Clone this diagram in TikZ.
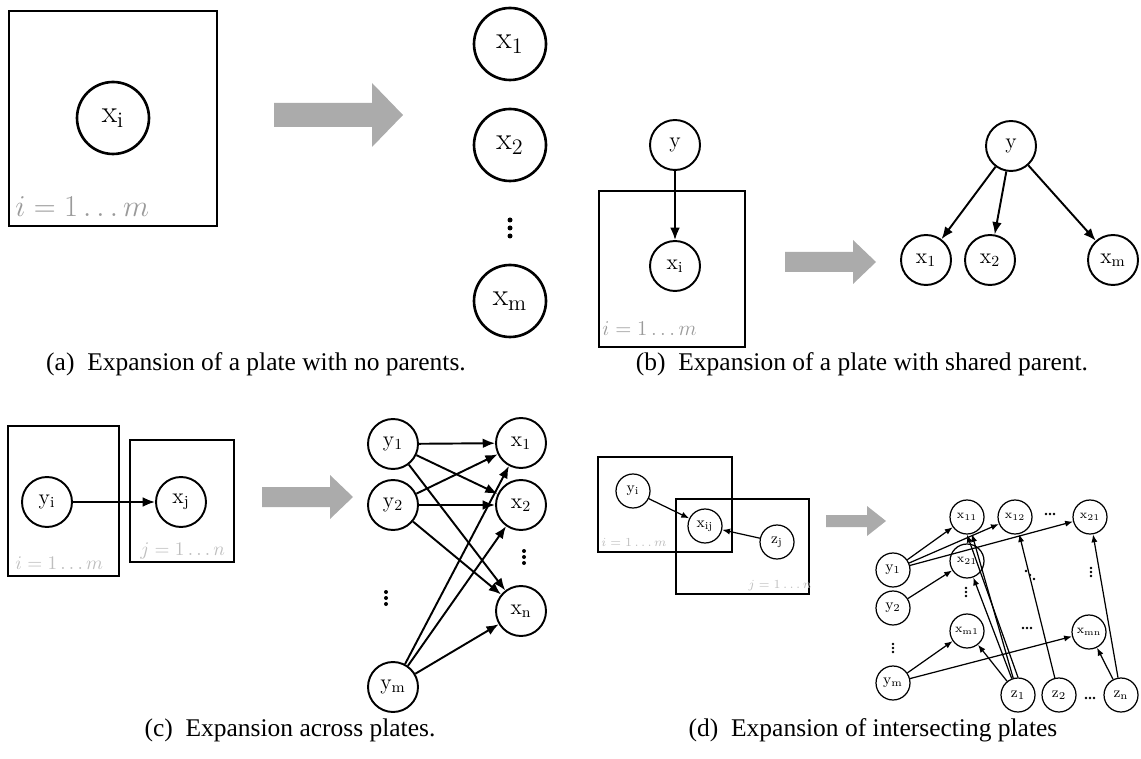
\documentclass[tikz,border=0pt]{standalone}
\usepackage{fontspec}
\newfontfamily\capfont{Liberation Serif}
\usetikzlibrary{arrows.meta,positioning}
\definecolor{FatGray}{HTML}{ABABAB}
\definecolor{LabelGray}{HTML}{9A9A9A}
\definecolor{LabelLight}{HTML}{BEBEBE}

\begin{document}
\begin{tikzpicture}[
  x=0.02cm, y=-0.02cm,
  var/.style={draw,circle,inner sep=0pt},
  varA/.style={var,minimum size=1.44cm,line width=1.5pt,font=\fontsize{18}{21}\selectfont},
  varB/.style={var,minimum size=1cm,line width=1.1pt,font=\fontsize{12.5}{15}\selectfont},
  varD/.style={var,minimum size=0.68cm,line width=0.7pt,font=\fontsize{8.6}{10}\selectfont},
  smallx/.style={font=\fontsize{7}{8}\selectfont},
  plateA/.style={draw,line width=1.5pt},
  plateB/.style={draw,line width=1.1pt},
  plateD/.style={draw,line width=0.7pt},
  rangelbl/.style={anchor=base west,inner sep=0pt},
  edgeB/.style={-{Latex[length=7pt,width=5.5pt]},line width=1.1pt},
  edgeD/.style={-{Latex[length=4.5pt,width=3.5pt]},line width=0.7pt},
  fatarrow/.style={fill=FatGray},
  dot/.style={fill=black},
  caption/.style={font=\capfont\fontsize{14.5}{17}\selectfont}
]
\useasboundingbox (0,0) rectangle (1141,759);

% (a) plate with no parents
\draw[plateA] (9,11) rectangle (217,226);
\node[varA] (xiA) at (113,118) {$\mathrm{x_i}$};
\node[rangelbl,text=LabelGray,font=\fontsize{16}{18}\selectfont] (rangeA) at (15,217) {$i = 1\ldots m$};
\fill[fatarrow] (274,103) -- (372,103) -- (372,83) -- (403,115) -- (372,147) -- (372,127) -- (274,127) -- cycle;
\node[varA] (x1A) at (510,44) {$\mathrm{x_1}$};
\node[varA] (x2A) at (510,145) {$\mathrm{x_2}$};
\foreach \d in {-8,0,8} \fill[dot] (510,228+\d) circle (2.5);
\node[varA] (xmA) at (510,301) {$\mathrm{x_m}$};
\node[caption] (capA) at (256,364) {(a)\hspace{0.5em}Expansion of a plate with no parents.};

% (b) plate with shared parent
\draw[plateB] (599,191) rectangle (745,347);
\node[varB] (yB) at (675,145) {$\mathrm{y}$};
\node[varB] (xiB) at (675,266) {$\mathrm{x_i}$};
\node[rangelbl,text=LabelGray,font=\fontsize{11.5}{13}\selectfont] (rangeB) at (602,336) {$i = 1\ldots m$};
\draw[edgeB] (yB) -- (xiB);
\fill[fatarrow] (785,252) -- (853,252) -- (853,240) -- (876,262) -- (853,284) -- (853,272) -- (785,272) -- cycle;
\node[varB] (yR) at (1011,146) {$\mathrm{y}$};
\node[varB] (x1B) at (926,260) {$\mathrm{x_1}$};
\node[varB] (x2B) at (990,260) {$\mathrm{x_2}$};
\node[varB] (xmB) at (1113,260) {$\mathrm{x_m}$};
\draw[edgeB] (yR) -- (x1B);
\draw[edgeB] (yR) -- (x2B);
\draw[edgeB] (yR) -- (xmB);
\node[caption] (capB) at (862,364) {(b)\hspace{0.5em}Expansion of a plate with shared parent.};

% (c) across plates
\draw[plateB] (8,426) rectangle (119,576);
\draw[plateB] (130,440) rectangle (234,562);
\node[varB] (yiC) at (47,502) {$\mathrm{y_i}$};
\node[varB] (xjC) at (181,502) {$\mathrm{x_j}$};
\node[rangelbl,text=LabelLight,font=\fontsize{11}{13}\selectfont] (rangeCi) at (15,569) {$i = 1\ldots m$};
\node[rangelbl,text=LabelLight,font=\fontsize{11}{13}\selectfont] (rangeCj) at (140,555) {$j = 1\ldots n$};
\draw[edgeB] (yiC) -- (xjC);
\fill[fatarrow] (262,487) -- (330,487) -- (330,475) -- (353,497) -- (330,519) -- (330,507) -- (262,507) -- cycle;
\node[varB] (y1C) at (393,444) {$\mathrm{y_1}$};
\node[varB] (y2C) at (393,505) {$\mathrm{y_2}$};
\foreach \d in {-6,0,6} \fill[dot] (386,598+\d) circle (2);
\node[varB] (ymC) at (393,687) {$\mathrm{y_m}$};
\node[varB] (x1C) at (521,443) {$\mathrm{x_1}$};
\node[varB] (x2C) at (521,505) {$\mathrm{x_2}$};
\foreach \d in {-6,0,6} \fill[dot] (524,557+\d) circle (2);
\node[varB] (xnC) at (521,611) {$\mathrm{x_n}$};
\foreach \y in {y1C,y2C,ymC}
  \foreach \x in {x1C,x2C,xnC}
    \draw[edgeB] (\y) -- (\x);
\node[caption] (capC) at (290,730) {(c)\hspace{0.5em}Expansion across plates.};

% (d) intersecting plates
\draw[plateD] (598,457) rectangle (732,552);
\draw[plateD] (676,499) rectangle (809,594);
\node[varD] (yiD) at (633,491) {$\mathrm{y_i}$};
\node[varD] (xijD) at (705,526) {$\mathrm{x_{ij}}$};
\node[varD] (zjD) at (777,542) {$\mathrm{z_j}$};
\node[rangelbl,text=LabelLight,font=\fontsize{7.4}{9}\selectfont] (rangeDi) at (601,546) {$i = 1\ldots m$};
\node[rangelbl,text=LabelLight,font=\fontsize{7.4}{9}\selectfont] (rangeDj) at (748,588) {$j = 1\ldots n$};
\draw[edgeD] (yiD) -- (xijD);
\draw[edgeD] (zjD) -- (xijD);
\fill[fatarrow] (826,515) -- (867,515) -- (867,506) -- (886,521) -- (867,536) -- (867,527) -- (826,527) -- cycle;
\node[varD,smallx] (x11) at (967,517) {$\mathrm{x_{11}}$};
\node[varD,smallx] (x12) at (1015,517) {$\mathrm{x_{12}}$};
\node[varD,smallx] (x1n) at (1090,517) {$\mathrm{x_{21}}$};
\node[varD,smallx] (x21) at (967,561) {$\mathrm{x_{21}}$};
\node[varD,smallx] (xm1) at (967,631) {$\mathrm{x_{m1}}$};
\node[varD,smallx] (xmn) at (1089,632) {$\mathrm{x_{mn}}$};
\node[varD] (y1D) at (893,570) {$\mathrm{y_1}$};
\node[varD] (y2D) at (893,608) {$\mathrm{y_2}$};
\node[varD] (ymD) at (893,683) {$\mathrm{y_m}$};
\node[varD] (z1D) at (1018,695) {$\mathrm{z_1}$};
\node[varD] (z2D) at (1059,695) {$\mathrm{z_2}$};
\node[varD] (znD) at (1121,695) {$\mathrm{z_n}$};
\foreach \d in {-4,0,4} {
  \fill[dot] (1050+\d,514) circle (1.3);
  \fill[dot] (1027+\d,628) circle (1.3);
  \fill[dot] (1090+\d,698) circle (1.3);
  \fill[dot] (966,592+\d) circle (1.3);
  \fill[dot] (1091,572+\d) circle (1.3);
  \fill[dot] (893,648+\d) circle (1.3);
  \fill[dot] (1030+\d,575+\d) circle (1.3);
}
\draw[edgeD] (y1D) -- (x11);
\draw[edgeD] (y1D) -- (x12);
\draw[edgeD] (y1D) -- (x1n);
\draw[edgeD] (y2D) -- (x21);
\draw[edgeD] (ymD) -- (xm1);
\draw[edgeD] (ymD) -- (xmn);
\draw[edgeD] (z1D) -- (x11);
\draw[edgeD] (z1D.north) -- (x11.south);
\draw[edgeD] (z1D) -- (x21);
\draw[edgeD] (z1D) -- (xm1);
\draw[edgeD] (z2D) -- (x12);
\draw[edgeD] (znD) -- (x1n);
\draw[edgeD] (znD) -- (xmn);
\node[caption] (capD) at (873,730) {(d)\hspace{0.5em}Expansion of intersecting plates};
\end{tikzpicture}
\end{document}
